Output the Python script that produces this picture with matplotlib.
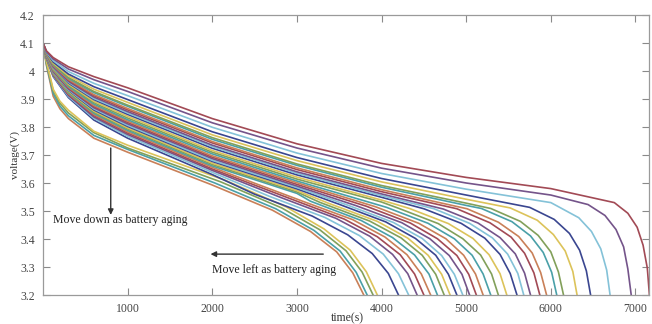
import matplotlib
matplotlib.use("Agg")
import matplotlib.pyplot as plt

# discharge curves (time in s, voltage in V), oldest cell first
curve_t = [
    [0, 40, 120, 200, 300, 600, 1000, 1990, 2710, 3160, 3470, 3660, 3790],
    [0, 40, 120, 200, 300, 600, 1000, 2030, 2750, 3200, 3510, 3700, 3830],
    [0, 40, 120, 200, 300, 600, 1000, 2100, 2820, 3270, 3580, 3770, 3900],
    [0, 40, 120, 200, 300, 600, 1000, 2150, 2870, 3320, 3630, 3820, 3950],
    [0, 40, 120, 300, 600, 1000, 2000, 2500, 3180, 3600, 3890, 4080, 4200],
    [0, 40, 120, 300, 600, 1000, 2000, 2670, 3330, 3740, 4020, 4200, 4320],
    [0, 40, 120, 300, 600, 1000, 2000, 2820, 3460, 3860, 4130, 4310, 4420],
    [0, 40, 120, 300, 600, 1000, 2000, 2930, 3560, 3950, 4220, 4390, 4500],
    [0, 40, 120, 300, 600, 1000, 2000, 3040, 3660, 4040, 4300, 4470, 4580],
    [0, 40, 120, 300, 600, 1000, 2000, 3000, 3160, 3760, 4130, 4390, 4560, 4660],
    [0, 40, 120, 300, 600, 1000, 2000, 3000, 3270, 3860, 4230, 4480, 4640, 4740],
    [0, 40, 120, 300, 600, 1000, 2000, 3000, 3370, 3950, 4310, 4550, 4710, 4810],
    [0, 40, 120, 300, 600, 1000, 2000, 3000, 3490, 4050, 4400, 4640, 4790, 4890],
    [0, 40, 120, 300, 600, 1000, 2000, 3000, 3590, 4140, 4480, 4710, 4860, 4960],
    [0, 40, 120, 300, 600, 1000, 2000, 3000, 3700, 4240, 4570, 4800, 4950, 5040],
    [0, 40, 120, 300, 600, 1000, 2000, 3000, 3820, 4340, 4660, 4890, 5030, 5120],
    [0, 40, 120, 300, 600, 1000, 2000, 3000, 3930, 4440, 4760, 4970, 5110, 5200],
    [0, 40, 120, 300, 600, 1000, 2000, 3000, 4060, 4550, 4860, 5070, 5200, 5290],
    [0, 40, 120, 300, 600, 1000, 2000, 3000, 4000, 4190, 4670, 4960, 5170, 5300, 5380],
    [0, 40, 120, 300, 600, 1000, 2000, 3000, 4000, 4330, 4790, 5080, 5270, 5400, 5480],
    [0, 40, 120, 300, 600, 1000, 2000, 3000, 4000, 4500, 4940, 5220, 5400, 5520, 5600],
    [0, 40, 120, 300, 600, 1000, 2000, 3000, 4000, 4620, 5040, 5310, 5490, 5610, 5680],
    [0, 40, 120, 300, 600, 1000, 2000, 3000, 4000, 4730, 5140, 5400, 5580, 5690, 5760],
    [0, 40, 120, 300, 600, 1000, 2000, 3000, 4000, 4890, 5280, 5530, 5690, 5800, 5870],
    [0, 40, 120, 300, 600, 1000, 2000, 3000, 4000, 5010, 5380, 5620, 5780, 5880, 5950],
    [0, 40, 120, 300, 600, 1000, 2000, 3000, 4000, 5000, 5180, 5540, 5760, 5910, 6010, 6070],
    [0, 40, 120, 300, 600, 1000, 2000, 3000, 4000, 5000, 5290, 5640, 5850, 6000, 6090, 6150],
    [0, 40, 120, 300, 600, 1000, 2000, 3000, 4000, 5000, 5520, 5840, 6030, 6170, 6260, 6310],
    [0, 40, 120, 300, 600, 1000, 2000, 3000, 4000, 5000, 5750, 6040, 6220, 6340, 6420, 6470],
    [0, 40, 120, 300, 600, 1000, 2000, 3000, 4000, 5000, 6000, 6080, 6330, 6480, 6590, 6660, 6700],
    [0, 40, 120, 300, 600, 1000, 2000, 3000, 4000, 5000, 6000, 6440, 6640, 6770, 6860, 6910, 6950],
    [0, 40, 120, 300, 600, 1000, 2000, 3000, 4000, 5000, 6000, 6750, 6910, 7020, 7090, 7140, 7165],
]
curve_v = [
    [4.10, 4.020, 3.910, 3.865, 3.830, 3.760, 3.710, 3.594, 3.503, 3.427, 3.354, 3.279, 3.20],
    [4.10, 4.025, 3.920, 3.875, 3.840, 3.770, 3.720, 3.600, 3.508, 3.431, 3.357, 3.281, 3.20],
    [4.10, 4.030, 3.930, 3.885, 3.850, 3.780, 3.725, 3.604, 3.511, 3.433, 3.358, 3.282, 3.20],
    [4.10, 4.035, 3.935, 3.892, 3.860, 3.785, 3.735, 3.610, 3.515, 3.436, 3.360, 3.283, 3.20],
    [4.10, 4.045, 3.980, 3.905, 3.825, 3.760, 3.630, 3.560, 3.482, 3.415, 3.348, 3.277, 3.20],
    [4.10, 4.046, 3.983, 3.909, 3.831, 3.767, 3.638, 3.553, 3.477, 3.412, 3.346, 3.276, 3.20],
    [4.10, 4.047, 3.985, 3.913, 3.836, 3.773, 3.645, 3.547, 3.474, 3.410, 3.345, 3.276, 3.20],
    [4.10, 4.048, 3.987, 3.916, 3.841, 3.778, 3.650, 3.543, 3.471, 3.408, 3.344, 3.275, 3.20],
    [4.10, 4.048, 3.989, 3.919, 3.845, 3.783, 3.656, 3.538, 3.469, 3.407, 3.344, 3.275, 3.20],
    [4.10, 4.049, 3.991, 3.922, 3.849, 3.788, 3.661, 3.563, 3.535, 3.466, 3.405, 3.343, 3.275, 3.20],
    [4.10, 4.050, 3.992, 3.925, 3.853, 3.793, 3.666, 3.568, 3.531, 3.464, 3.404, 3.342, 3.274, 3.20],
    [4.10, 4.051, 3.994, 3.928, 3.857, 3.797, 3.671, 3.573, 3.528, 3.463, 3.403, 3.342, 3.274, 3.20],
    [4.10, 4.051, 3.996, 3.931, 3.861, 3.802, 3.677, 3.579, 3.525, 3.461, 3.402, 3.342, 3.274, 3.20],
    [4.10, 4.052, 3.997, 3.933, 3.865, 3.806, 3.681, 3.584, 3.522, 3.459, 3.402, 3.341, 3.274, 3.20],
    [4.10, 4.053, 3.999, 3.936, 3.869, 3.811, 3.687, 3.589, 3.519, 3.458, 3.401, 3.341, 3.274, 3.20],
    [4.10, 4.053, 4.001, 3.939, 3.873, 3.816, 3.692, 3.595, 3.517, 3.457, 3.401, 3.341, 3.274, 3.20],
    [4.10, 4.054, 4.003, 3.942, 3.877, 3.821, 3.697, 3.601, 3.515, 3.456, 3.401, 3.342, 3.275, 3.20],
    [4.10, 4.055, 4.005, 3.945, 3.882, 3.826, 3.704, 3.607, 3.513, 3.456, 3.401, 3.342, 3.275, 3.20],
    [4.10, 4.056, 4.007, 3.949, 3.887, 3.832, 3.710, 3.614, 3.532, 3.511, 3.455, 3.401, 3.343, 3.275, 3.20],
    [4.10, 4.057, 4.009, 3.953, 3.892, 3.838, 3.716, 3.621, 3.539, 3.509, 3.455, 3.402, 3.344, 3.276, 3.20],
    [4.10, 4.058, 4.012, 3.957, 3.898, 3.845, 3.724, 3.629, 3.549, 3.508, 3.456, 3.403, 3.345, 3.277, 3.20],
    [4.10, 4.058, 4.014, 3.960, 3.902, 3.850, 3.730, 3.635, 3.555, 3.508, 3.456, 3.404, 3.346, 3.277, 3.20],
    [4.10, 4.059, 4.016, 3.963, 3.907, 3.855, 3.735, 3.640, 3.561, 3.507, 3.457, 3.405, 3.347, 3.278, 3.20],
    [4.10, 4.060, 4.018, 3.967, 3.912, 3.861, 3.743, 3.648, 3.569, 3.508, 3.458, 3.407, 3.349, 3.279, 3.20],
    [4.10, 4.061, 4.020, 3.970, 3.916, 3.866, 3.748, 3.654, 3.576, 3.508, 3.460, 3.409, 3.350, 3.280, 3.20],
    [4.10, 4.062, 4.023, 3.974, 3.923, 3.874, 3.756, 3.663, 3.585, 3.520, 3.509, 3.462, 3.411, 3.352, 3.281, 3.20],
    [4.10, 4.063, 4.025, 3.977, 3.927, 3.878, 3.762, 3.668, 3.591, 3.528, 3.509, 3.463, 3.413, 3.354, 3.282, 3.20],
    [4.10, 4.064, 4.028, 3.983, 3.935, 3.888, 3.772, 3.680, 3.604, 3.542, 3.511, 3.467, 3.416, 3.357, 3.284, 3.20],
    [4.10, 4.066, 4.032, 3.989, 3.944, 3.898, 3.783, 3.691, 3.616, 3.557, 3.513, 3.470, 3.420, 3.360, 3.286, 3.20],
    [4.10, 4.068, 4.037, 3.998, 3.956, 3.912, 3.799, 3.707, 3.634, 3.578, 3.530, 3.517, 3.476, 3.427, 3.365, 3.289, 3.20],
    [4.10, 4.070, 4.043, 4.007, 3.969, 3.927, 3.815, 3.725, 3.653, 3.600, 3.557, 3.523, 3.484, 3.434, 3.372, 3.293, 3.20],
    [4.10, 4.072, 4.048, 4.015, 3.980, 3.940, 3.830, 3.740, 3.670, 3.620, 3.580, 3.530, 3.492, 3.442, 3.378, 3.296, 3.20],
]

x_ticks = [1000, 2000, 3000, 4000, 5000, 6000, 7000]
x_tick_labels = ["1000", "2000", "3000", "4000", "5000", "6000", "7000"]
y_ticks = [3.2, 3.3, 3.4, 3.5, 3.6, 3.7, 3.8, 3.9, 4.0, 4.1, 4.2]
y_tick_labels = ["3.2", "3.3", "3.4", "3.5", "3.6", "3.7", "3.8", "3.9", "4", "4.1", "4.2"]

# muted matlab-ish colour order, assigned from the top curve downwards
palette = ["#a24a55", "#74548a", "#84c2d8", "#3a4690", "#dcc35a",
           "#82a05a", "#4aa0a8", "#c98058"]

plt.rcParams["font.family"] = ["Liberation Serif", "DejaVu Serif"]

fig = plt.figure(figsize=(6.52, 3.24), dpi=100)
ax = fig.add_axes([0.066, 0.0895, 0.9294, 0.8642])

n = len(curve_t)
for i in range(n):
    col = palette[(n - 1 - i) % len(palette)]
    ax.plot(curve_t[i], curve_v[i], color=col, lw=1.2, solid_joinstyle="round")

ax.set_xlim(0, 7160)
ax.set_ylim(3.2, 4.2)
ax.set_xticks(x_ticks)
ax.set_xticklabels(x_tick_labels)
ax.set_yticks(y_ticks)
ax.set_yticklabels(y_tick_labels)

for s in ax.spines.values():
    s.set_color("#9a9a9a")
    s.set_linewidth(0.9)
ax.tick_params(direction="in", length=5, width=0.8, color="#8a8a8a",
               labelsize=8.5, labelcolor="#444444", top=True, right=True)
ax.tick_params(axis="x", pad=6)
ax.tick_params(axis="y", pad=6)

ax.set_xlabel("time(s)", fontsize=8.5, color="#333333")
ax.set_ylabel("voltage(V)", fontsize=8, color="#333333")
ax.xaxis.set_label_coords(0.502, -0.06)
ax.yaxis.set_label_coords(-0.038, 0.5)

arrow = dict(arrowstyle="-|>", color="#333333", lw=1.0, mutation_scale=8,
             shrinkA=0, shrinkB=0)
ax.annotate("", xy=(800, 3.486), xytext=(800, 3.725), arrowprops=arrow)
ax.text(115, 3.468, "Move down as battery aging", fontsize=8.5,
        color="#222222", va="center", ha="left")
ax.annotate("", xy=(1979, 3.346), xytext=(3311, 3.346), arrowprops=arrow)
ax.text(2002, 3.289, "Move left as battery aging", fontsize=8.5,
        color="#222222", va="center", ha="left")

fig.savefig("out.png", dpi=100)
